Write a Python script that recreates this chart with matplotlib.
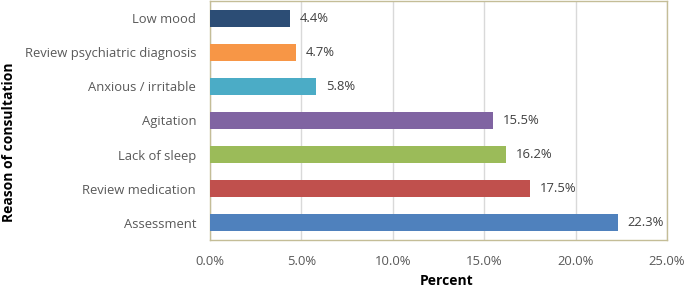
import matplotlib
matplotlib.use("Agg")
import matplotlib.pyplot as plt
from matplotlib.ticker import FuncFormatter

reasons = ["Assessment", "Review medication", "Lack of sleep", "Agitation",
           "Anxious / irritable", "Review psychiatric diagnosis", "Low mood"]
percent = [22.3, 17.5, 16.2, 15.5, 5.8, 4.7, 4.4]
colors = ["#4F81BD", "#C0504D", "#9BBB59", "#8064A2", "#4BACC6", "#F79646", "#2C4D75"]
xticks = [0, 5, 10, 15, 20, 25]

plt.rcParams["font.family"] = ["Open Sans", "DejaVu Sans"]

fig = plt.figure(figsize=(6.85, 2.89), dpi=100)
ax = fig.add_axes([210/685, 49/289, 457/685, 239/289])

y = range(len(reasons))
ax.barh(y, percent, height=0.5, color=colors, zorder=3)
for yi, v in zip(y, percent):
    ax.annotate(f"{v:.1f}%", (v, yi), xytext=(7, 0), textcoords="offset points",
                va="center", ha="left", fontsize=9.4, color="#404040")

ax.set_xlim(0, 25)
ax.set_ylim(-0.5, len(reasons) - 0.5)
ax.set_xticks(xticks)
ax.xaxis.set_major_formatter(FuncFormatter(lambda v, p: f"{v:.1f}%"))
ax.set_yticks(list(y))
ax.set_yticklabels(reasons)
ax.tick_params(axis="both", length=0, labelsize=9.4, labelcolor="#595959")
ax.tick_params(axis="x", pad=11)
ax.tick_params(axis="y", pad=10)
ax.grid(axis="x", color="#D9D9D9", lw=1, zorder=0)
for s in ax.spines.values():
    s.set_color("#C4BD97")
    s.set_linewidth(1)

fig.text(447/685, 1 - 281/289, "Percent", fontsize=10, fontweight="bold",
         ha="center", va="center")
fig.text(9/685, 1 - 142/289, "Reason of consultation", fontsize=10,
         fontweight="bold", rotation=90, ha="center", va="center")

fig.savefig("out.png", dpi=100)
